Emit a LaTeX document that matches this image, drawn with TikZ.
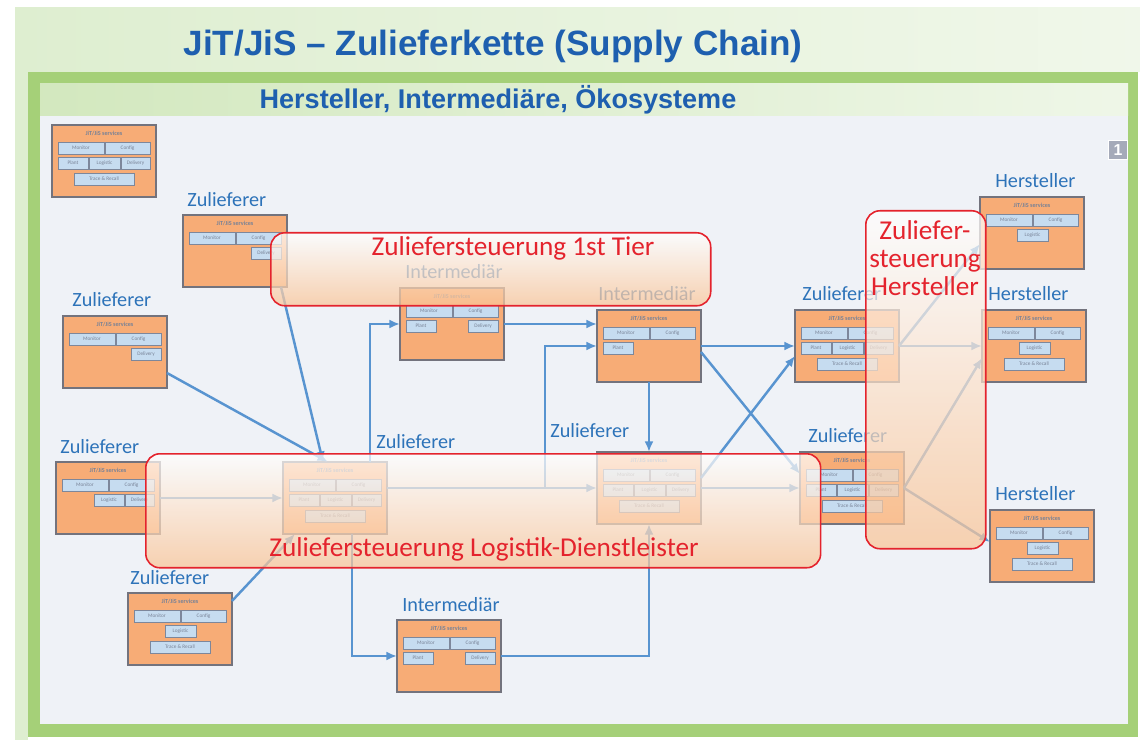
\documentclass[tikz,border=0pt]{standalone}
\usepackage{fontspec}
\setmainfont{Carlito}
\newfontfamily\headfont{Liberation Sans}
\usetikzlibrary{positioning,calc,arrows.meta}
\definecolor{BoxFill}{RGB}{247,172,118}
\definecolor{BoxLine}{RGB}{115,115,125}
\definecolor{SubFill}{RGB}{198,220,240}
\definecolor{SubLine}{RGB}{125,135,155}
\definecolor{SubText}{RGB}{120,130,150}
\definecolor{FlowBlue}{RGB}{88,148,208}
\definecolor{LabelBlue}{RGB}{45,115,185}
\definecolor{TitleBlue}{RGB}{30,95,175}
\definecolor{ZoneRed}{RGB}{228,35,45}
\definecolor{ZoneTint}{RGB}{250,196,150}
\definecolor{FrameGreen}{RGB}{165,208,120}
\definecolor{BandGreen}{RGB}{222,238,208}
\definecolor{PanelBg}{RGB}{239,242,247}
\definecolor{TagGrey}{RGB}{165,170,185}

\tikzset{
  svc/.style={draw=BoxLine, fill=BoxFill, line width=0.9pt, minimum width=2.08cm, minimum height=1.44cm, inner sep=0pt, outer sep=0pt},
  svctitle/.style={font=\fontsize{3.5}{4}\selectfont\bfseries, text=SubText, inner sep=0pt},
  subbox/.style={draw=SubLine, fill=SubFill, line width=0.4pt},
  subtext/.style={font=\fontsize{3}{3.5}\selectfont, text=SubText, inner sep=0pt},
  lbl/.style={font=\fontsize{11.5}{13}\selectfont, text=LabelBlue, inner sep=0pt, anchor=base west},
  flow/.style={draw=FlowBlue, line width=1.4pt, -{Latex[length=6pt,width=5pt]}},
  zone/.style={draw=ZoneRed, line width=0.9pt, rounded corners=8pt, top color=white, bottom color=ZoneTint, fill opacity=0.72, inner sep=0pt, anchor=north west},
  zonetext/.style={font=\fontsize{15.5}{16}\selectfont, text=ZoneRed, align=center},
}

% service box: name, left x, top y, sub boxes
\newcommand{\svcbox}[4]{%
  \node[svc, anchor=north west] (#1) at (#2,#3) {};
  \node[svctitle] at (#2+52,#3+8) {JiT/JiS services};
  \foreach \a/\b/\c/\lab in {#4}{
    \draw[subbox] (#2+\a,#3+\c) rectangle (#2+\b,#3+\c+12);
    \node[subtext] at ({#2+(\a+\b)/2},#3+\c+6) {\lab};
  }
}

\begin{document}
\begin{tikzpicture}[x=0.02cm, y=-0.02cm]
\useasboundingbox (0,0) rectangle (1140,743);

% background and frame
\fill[white] (0,0) rectangle (1140,743);
\shade[left color=BandGreen, right color=BandGreen!45] (15,8) rectangle (1140,72);
\fill[BandGreen] (15,8) rectangle (28,740);
\fill[FrameGreen] (28,72) rectangle (1138,737);
\shade[left color=BandGreen!80!FrameGreen, right color=BandGreen!50] (40,84) rectangle (1128,116);
\fill[PanelBg] (40,116) rectangle (1128,724);

\node[font=\headfont\bfseries\fontsize{20}{24}\selectfont, text=TitleBlue] (title) at (493,46) {JiT/JiS – Zulieferkette (Supply Chain)};
\node[font=\headfont\bfseries\fontsize{15.4}{18}\selectfont, text=TitleBlue] (subtitle) at (498,100) {Hersteller, Intermediäre, Ökosysteme};
\node[fill=TagGrey, draw=white, text=white, minimum size=0.38cm, inner sep=0pt, font=\headfont\bfseries\small] (tag) at (1118,150) {1};

% service boxes
\svcbox{legend}{52}{125}{6/52/17/Monitor, 53/98/17/Config, 6/36/32/Plant, 37/68/32/Logistic, 69/98/32/Delivery, 22/82/48/Trace \& Recall}
\svcbox{zA}{183}{215}{6/52/17/Monitor, 53/98/17/Config, 68/98/32/Delivery}
\svcbox{zB}{63}{316}{6/52/17/Monitor, 53/98/17/Config, 68/98/32/Delivery}
\svcbox{zC}{56}{462}{6/52/17/Monitor, 53/98/17/Config, 38/68/32/Logistic, 69/98/32/Delivery}
\svcbox{zD}{128}{593}{6/52/17/Monitor, 53/98/17/Config, 37/68/32/Logistic, 22/82/48/Trace \& Recall}
\svcbox{iA}{400}{288}{6/52/17/Monitor, 53/98/17/Config, 6/36/32/Plant, 68/98/32/Delivery}
\svcbox{iB}{597}{310}{6/52/17/Monitor, 53/98/17/Config, 6/36/32/Plant}
\svcbox{zE}{283}{462}{6/52/17/Monitor, 53/98/17/Config, 6/36/32/Plant, 37/68/32/Logistic, 69/98/32/Delivery, 22/82/48/Trace \& Recall}
\svcbox{zF}{597}{452}{6/52/17/Monitor, 53/98/17/Config, 6/36/32/Plant, 37/68/32/Logistic, 69/98/32/Delivery, 22/82/48/Trace \& Recall}
\svcbox{iC}{397}{620}{6/52/17/Monitor, 53/98/17/Config, 6/36/32/Plant, 68/98/32/Delivery}
\svcbox{zG}{795}{310}{6/52/17/Monitor, 53/98/17/Config, 6/36/32/Plant, 37/68/32/Logistic, 69/98/32/Delivery, 22/82/48/Trace \& Recall}
\svcbox{zH}{800}{452}{6/52/17/Monitor, 53/98/17/Config, 6/36/32/Plant, 37/68/32/Logistic, 69/98/32/Delivery, 22/82/48/Trace \& Recall}
\svcbox{hA}{980}{197}{6/52/17/Monitor, 53/98/17/Config, 37/68/32/Logistic}
\svcbox{hB}{982}{310}{6/52/17/Monitor, 53/98/17/Config, 37/68/32/Logistic, 22/82/48/Trace \& Recall}
\svcbox{hC}{990}{510}{6/52/17/Monitor, 53/98/17/Config, 37/68/32/Logistic, 22/82/48/Trace \& Recall}

% labels
\node[lbl] (zAl) at (187,207) {Zulieferer};
\node[lbl] (zBl) at (72,307) {Zulieferer};
\node[lbl] (zCl) at (60,453) {Zulieferer};
\node[lbl] (zDl) at (130,584) {Zulieferer};
\node[lbl] (iAl) at (405,279) {Intermediär};
\node[lbl] (iBl) at (598,301) {Intermediär};
\node[lbl] (zEl) at (376,448) {Zulieferer};
\node[lbl] (zFl) at (550,438) {Zulieferer};
\node[lbl] (iCl) at (402,611) {Intermediär};
\node[lbl] (zGl) at (802,301) {Zulieferer};
\node[lbl] (zHl) at (808,442) {Zulieferer};
\node[lbl] (hAl) at (995,188) {Hersteller};
\node[lbl] (hBl) at (988,301) {Hersteller};
\node[lbl] (hCl) at (995,500) {Hersteller};

% flows
\draw[flow] ($(zB.south east)+(0,-15)$) -- ($(zE.north west)+(45,0)$);
\draw[flow] ($(zA.south east)+(-6,0)$) -- ($(zE.north west)+(40,0)$);
\draw[flow] ($(zD.north east)+(0,8)$) -- ($(zE.south west)+(12,0)$);
\draw[flow] (zC.east) -- (zE.west);
\draw[flow] ($(zE.north west)+(87,0)$) |- (iA.west);
\draw[flow] ($(zE.south west)+(69,0)$) |- (iC.west);
\draw[flow] (iA.east) -- (iA.east -| iB.west);
\coordinate (fork) at ($(zF.west)+(-52,0)$);
\draw[flow] (zE.east |- zF.west) -- (zF.west);
\draw[flow] (fork) |- (iB.west);
\draw[flow] (iB.south) -- (zF.north);
\draw[flow] (iC.east) -| (zF.south);
\draw[flow] (iB.east) -- (zG.west);
\draw[flow] ($(iB.east)+(0,6)$) -- ($(zH.west)+(0,-14)$);
\draw[flow] ($(zF.east)+(0,-10)$) -- ($(zG.west)+(0,10)$);
\draw[flow] (zF.east) -- (zH.west);
\draw[flow] (zG.east) -- ($(hA.south west)+(0,-25)$);
\draw[flow] (zG.east) -- (hB.west);
\draw[flow] (zH.east) -- ($(hB.west)+(0,12)$);
\draw[flow] (zH.east) -- ($(hC.west)+(0,-4)$);

% control zones
\node[zone, minimum width=8.8cm, minimum height=1.46cm] (tierA) at (270,232) {};
\node[zone, minimum width=13.5cm, minimum height=2.28cm] (logB) at (145,453) {};
\node[zone, minimum width=2.4cm, minimum height=6.76cm] (herstC) at (865,210) {};
\node[zonetext] (tierAt) at (513,248) {Zuliefersteuerung 1st Tier};
\node[zonetext] (logBt) at (484,549) {Zuliefersteuerung Logistik-Dienstleister};
\node[zonetext, anchor=north] (herstCt) at (925,214) {Zuliefer-\\steuerung\\Hersteller};
\end{tikzpicture}
\end{document}
